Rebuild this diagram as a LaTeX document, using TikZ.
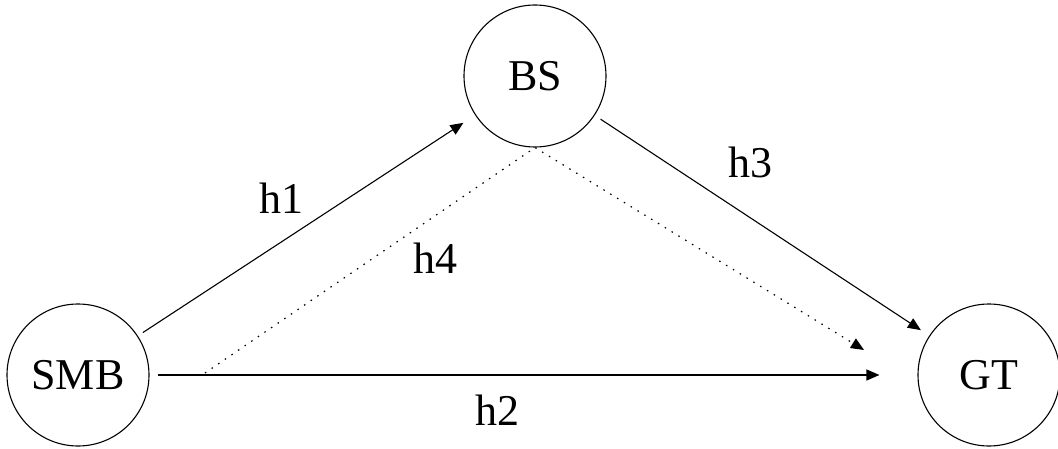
\documentclass[tikz,border=0pt]{standalone}
\usepackage{fontspec}
\setmainfont{Liberation Serif}
\usetikzlibrary{arrows.meta}
\begin{document}
\begin{tikzpicture}[x=1pt,y=1pt,
  station/.style={draw, circle, line width=1.1pt, minimum size=142pt, inner sep=0pt, font=\fontsize{44}{52}\selectfont},
  lbl/.style={font=\fontsize{44}{52}\selectfont, inner sep=0pt},
  link/.style={line width=1.1pt, -{Triangle[length=13pt,width=11pt]}},
  dotlink/.style={line width=1.2pt, dash pattern=on 1.5pt off 6.5pt, -{Triangle[length=13pt,width=11pt]}}]
\useasboundingbox (0,0) rectangle (1058,448);
\node[station] (SMB) at (78,73) {SMB};
\node[station] (BS) at (535,372) {BS};
\node[station] (GT) at (989,73) {GT};
\coordinate (h4a) at (205,75);
\coordinate (h4b) at (864,98);
\draw[link, shorten <=6pt, shorten >=14pt] (SMB) -- (BS);
\draw[link, shorten <=7pt, shorten >=10pt] (BS) -- (GT);
\draw[link, shorten <=8pt, shorten >=38pt] (SMB) -- (GT);
\draw[dotlink] (h4a) -- (BS.south) -- (h4b);
\node[lbl] (l1) at (281,250) {h1};
\node[lbl] (l3) at (750,286) {h3};
\node[lbl] (l4) at (435,190) {h4};
\node[lbl] (l2) at (497,38) {h2};
\end{tikzpicture}
\end{document}
